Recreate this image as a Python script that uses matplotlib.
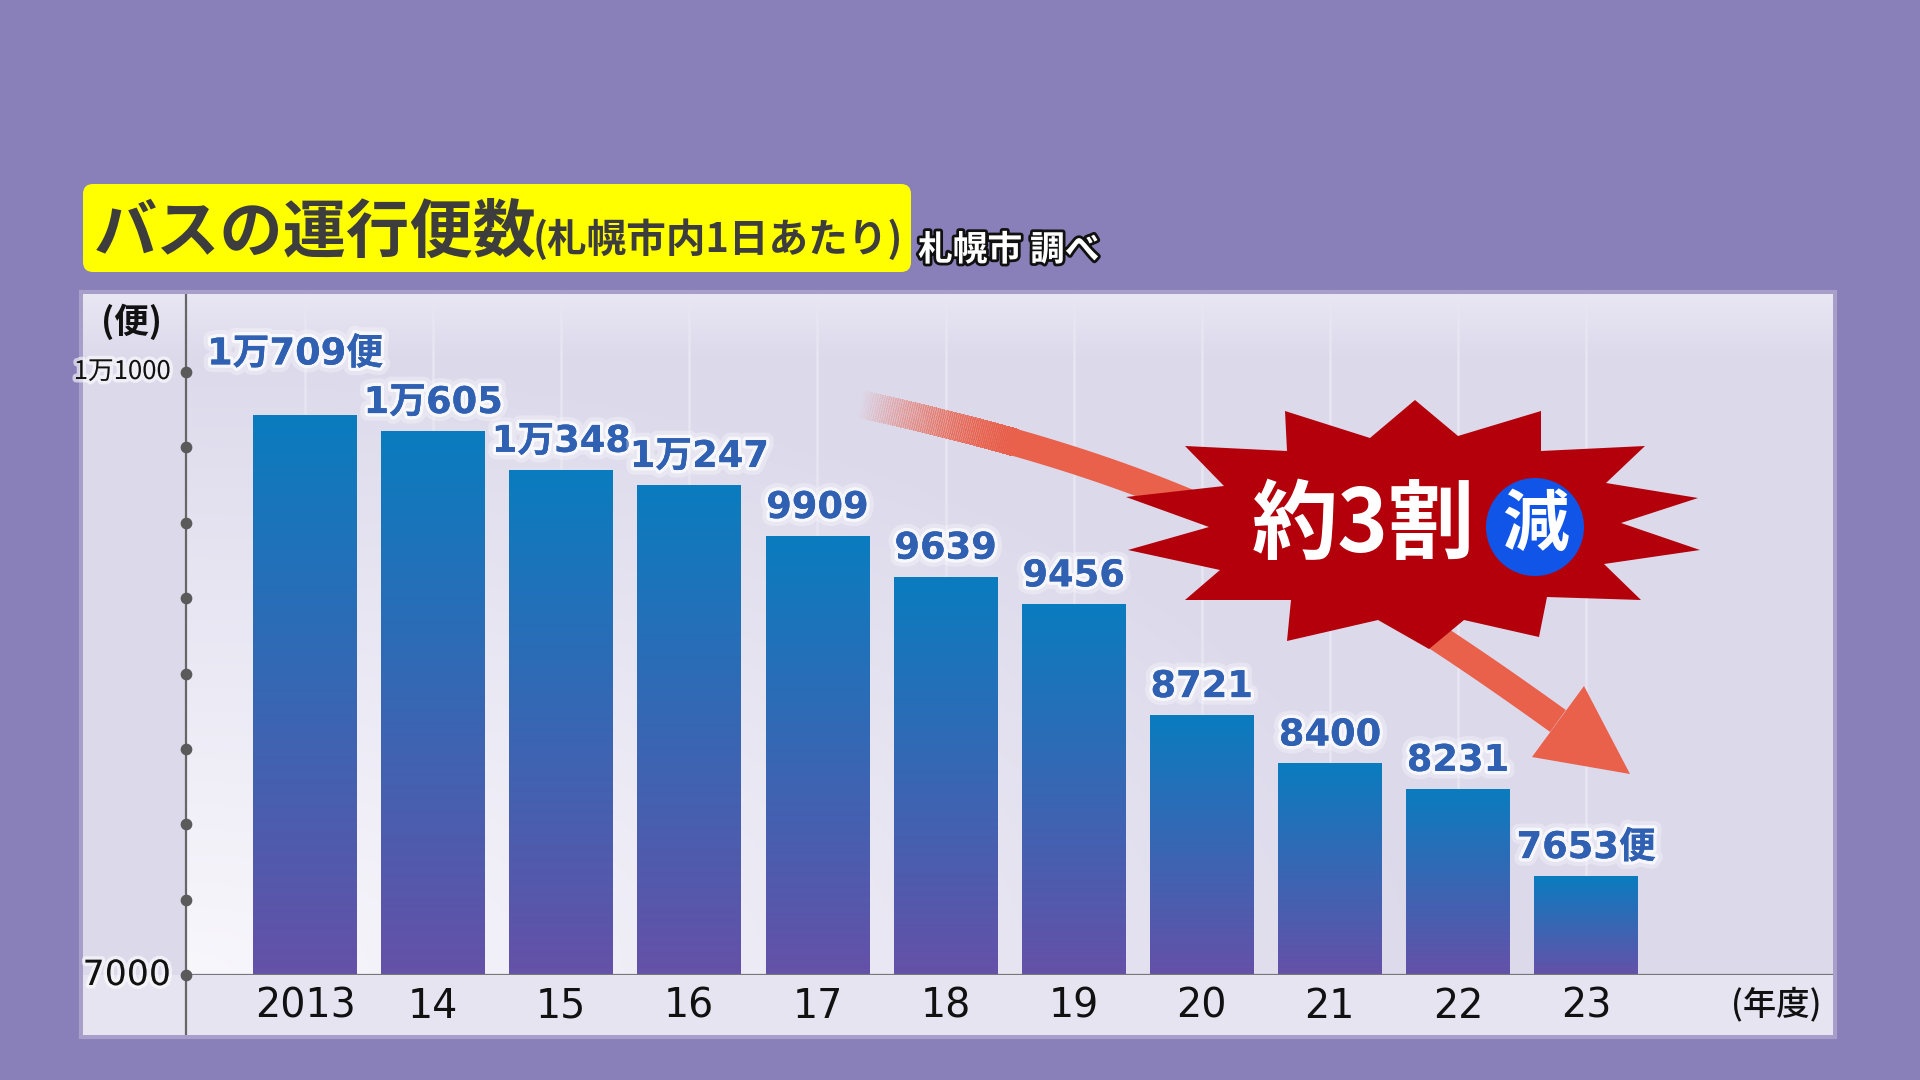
import numpy as np
import matplotlib
matplotlib.use("Agg")
import matplotlib.pyplot as plt
from matplotlib.patches import Polygon, Circle, FancyBboxPatch, Rectangle
from matplotlib.collections import PolyCollection
import matplotlib.patheffects as pe
from matplotlib.colors import to_rgb

plt.rcParams['font.family'] = ['Noto Sans CJK JP', 'DejaVu Sans']

# ---------------- data ----------------
years = ['2013', '14', '15', '16', '17', '18', '19', '20', '21', '22', '23']
trips = [10709, 10605, 10348, 10247, 9909, 9639, 9456, 8721, 8400, 8231, 7653]
value_labels = ['1万709便', '1万605', '1万348', '1万247', '9909', '9639',
                '9456', '8721', '8400', '8231', '7653便']
ytick_values = [7000, 7500, 8000, 8500, 9000, 9500, 10000, 10500, 11000]
ytick_text = {11000: '1万1000', 7000: '7000'}
title = 'バスの運行便数'
subtitle = '(札幌市内1日あたり)'
source = '札幌市 調べ'
y_unit = '(便)'
x_unit = '(年度)'
badge = '約3割'
badge_mark = '減'

# ---------------- layout (pixels) ----------------
W, H = 1920, 1080
fig = plt.figure(figsize=(19.2, 10.8), dpi=100)
fig.patch.set_facecolor('#8a80b9')

bg = fig.add_axes([0, 0, 1, 1], zorder=0)
bg.set_xlim(0, W); bg.set_ylim(H, 0); bg.axis('off')

px0, px1, py0, py1 = 83, 1833, 294, 1035
ax_left, ax_base = 186, 975

# panel background gradient
xs = np.arange(px0, px1) + 0.5
ys = np.arange(py0, py1) + 0.5
X, Y = np.meshgrid(xs, ys)
base = np.array(to_rgb('#dcd9eb'))
light = np.array(to_rgb('#f8f7fc'))
top_light = np.array(to_rgb('#ebe9f5'))
strip_c = np.array(to_rgb('#e6e4f0'))
d = np.sqrt(((X - ax_left) / 1250.0) ** 2 + ((Y - ax_base) / 620.0) ** 2)
w = np.clip(1 - d, 0, 1) ** 0.9
w[(X < ax_left) | (Y > ax_base)] = 0
img = base[None, None, :] + (light - base)[None, None, :] * w[..., None]
tw = (np.clip((360 - Y) / 66.0, 0, 1) * 0.85)[..., None]
img = img + (top_light[None, None, :] - img) * tw
img[Y > ax_base] = strip_c
bg.imshow(img, extent=[px0, px1, py1, py0], origin='upper', aspect='auto',
          interpolation='bilinear', zorder=1)
bg.add_patch(Rectangle((px0 - 2, py0 - 2), px1 - px0 + 4, py1 - py0 + 4, fill=False,
                       ec='white', lw=3, alpha=0.25, zorder=1.5))

# axis line (full panel height)
bg.plot([ax_left, ax_left], [py0, py1], color='#666666', lw=1.6, zorder=3,
        solid_capstyle='butt')

# title box
bg.add_patch(FancyBboxPatch((83, 184), 828, 88, boxstyle='round,pad=0,rounding_size=10',
                            fc='#ffff00', ec='none', zorder=2))
bg.text(94, 252, title, fontsize=45.5, fontweight='bold', color='#3d3d3d',
        ha='left', va='baseline', zorder=3)
bg.text(533, 252, subtitle, fontsize=28.5, fontweight='bold', color='#3d3d3d',
        ha='left', va='baseline', zorder=3)
bg.text(918, 250, source, fontsize=25, fontweight='bold', color='white',
        ha='left', va='center', zorder=3,
        path_effects=[pe.withStroke(linewidth=4, foreground='#111111')])

# ---------------- main axes ----------------
spacing = 128.1
c0 = 305
ppu = (975 - 372) / 4000.0
ax = fig.add_axes([ax_left / W, (H - ax_base) / H, (px1 - ax_left) / W, (ax_base - py0) / H],
                  zorder=2)
ax.set_facecolor('none')
x = np.arange(len(years))
xlo = (ax_left - c0) / spacing
xhi = (px1 - c0) / spacing
ylo = 7000
yhi = 7000 + (ax_base - py0) / ppu

for s in ax.spines.values():
    s.set_visible(False)
ax.set_xticks([]); ax.set_yticks([])

# grid lines at bar centres
ax.vlines(x, ylo, yhi, color='#e7e5f1', lw=1.8, zorder=1)

bars = ax.bar(x, trips, width=0.81, color='none', zorder=2)
top_c = np.array(to_rgb('#0a7cbf'))
bot_c = np.array(to_rgb('#6551a8'))
g = np.linspace(0, 1, 256)[:, None]
gimg = (top_c[None, :] + (bot_c - top_c)[None, :] * g)[:, None, :]
for b in bars:
    bx = b.get_x(); bw = b.get_width(); bt = b.get_y() + b.get_height()
    ax.imshow(gimg, extent=[bx, bx + bw, ylo, bt], origin='upper', aspect='auto',
              interpolation='bilinear', zorder=2)

ax.axhline(ylo, color='#777777', lw=1.6, zorder=4)

ax.set_xlim(xlo, xhi)
ax.set_ylim(ylo, yhi)

# y tick dots & labels
ax.scatter([xlo] * len(ytick_values), ytick_values, s=55, color='#5a5a5a',
           zorder=6, clip_on=False)
for v in ytick_values:
    if v in ytick_text:
        if v == 11000:
            ax.annotate(ytick_text[v], (xlo, v), xytext=(-11, 0), textcoords='offset points',
                        ha='right', va='center', fontsize=18.5, color='#111111',
                        family=['Noto Sans CJK JP'], annotation_clip=False,
                        path_effects=[pe.withStroke(linewidth=5, foreground='white', alpha=0.6)])
        else:
            ax.annotate(ytick_text[v], (xlo, v), xytext=(-11, 0), textcoords='offset points',
                        ha='right', va='center', fontsize=25, color='#111111',
                        family=['DejaVu Sans'], annotation_clip=False,
                        path_effects=[pe.withStroke(linewidth=5, foreground='white', alpha=0.6)])

bg.text(132, 322, y_unit, fontsize=25, fontweight='bold', color='#111111',
        ha='center', va='center', zorder=3)

# x tick labels
for xi, lab in zip(x, years):
    ax.annotate(lab, (xi, ylo), xytext=(0, -23), textcoords='offset points',
                ha='center', va='center', fontsize=28.5, color='#111111',
                family=['DejaVu Sans'], annotation_clip=False)
bg.text(1776, 1005, x_unit, fontsize=24, fontweight='medium', color='#111111',
        ha='center', va='center', zorder=3)

# value labels
label_dx_px = [-10, 0, 0, 10, 0, 0, 0, 0, 0, 0, 0]
label_dy_px = [62, 29, 29, 29, 29, 29, 29, 29, 29, 29, 29]
for xi, v, lab, dx, dy in zip(x, trips, value_labels, label_dx_px, label_dy_px):
    ax.annotate(lab, (xi, v), xytext=(dx * 0.72, dy * 0.72), textcoords='offset points',
                ha='center', va='center', fontsize=26.5, fontweight='bold',
                color='#2f60b1', family=['DejaVu Sans', 'Noto Sans CJK JP'], zorder=7,
                annotation_clip=False,
                path_effects=[pe.withStroke(linewidth=11, foreground='white', alpha=0.3),
                              pe.withStroke(linewidth=5, foreground='white', alpha=0.7),
                              pe.Normal()])

# ---------------- overlay: arrow + starburst ----------------
fg = fig.add_axes([0, 0, 1, 1], zorder=5)
fg.set_xlim(0, W); fg.set_ylim(H, 0); fg.axis('off'); fg.set_facecolor('none')

P0 = np.array([860.0, 404.0]); P1 = np.array([1160.0, 470.0])
P2 = np.array([1308.0, 541.0]); P3 = np.array([1558.0, 721.0])
t = np.linspace(0, 1, 400)[:, None]
pts = ((1 - t) ** 3) * P0 + 3 * ((1 - t) ** 2) * t * P1 + 3 * (1 - t) * t ** 2 * P2 + t ** 3 * P3
tang = np.gradient(pts, axis=0)
tang /= np.linalg.norm(tang, axis=1)[:, None]
nrm = np.stack([-tang[:, 1], tang[:, 0]], axis=1)
half = 13.5
left = pts + nrm * half
right = pts - nrm * half
arrow_rgb = to_rgb('#e9604b')
alpha = np.clip((pts[:, 0] - 860) / (1013 - 860), 0, 1)
k = np.argmax(alpha >= 1)
quads, cols = [], []
for i in range(k):
    quads.append([left[i], left[i + 1], right[i + 1], right[i]])
    a = 0.5 * (alpha[i] + alpha[i + 1])
    cols.append((*arrow_rgb, a))
fg.add_collection(PolyCollection(quads, facecolors=cols, edgecolors='none',
                                 antialiased=False, zorder=1))
solid = np.vstack([left[k:], right[k:][::-1]])
fg.add_patch(Polygon(solid, closed=True, fc=arrow_rgb, ec='none', zorder=1))
fg.add_patch(Polygon([(1584, 686), (1630, 774), (1532, 757)], closed=True,
                     fc=arrow_rgb, ec='none', zorder=1))

star = [(1415, 400), (1458, 436), (1541, 411), (1541, 451), (1645, 446), (1606, 483),
        (1698, 498), (1621, 523), (1700, 550), (1604, 564), (1641, 600), (1547, 597),
        (1539, 637), (1464, 620), (1429, 649), (1378, 620), (1287, 641), (1291, 600),
        (1185, 600), (1220, 570), (1128, 550), (1209, 527), (1126, 497), (1224, 486),
        (1185, 446), (1287, 451), (1285, 411), (1370, 438)]
fg.add_patch(Polygon(star, closed=True, fc='#b3000b', ec='none', zorder=2))
fg.text(1363, 527, badge, fontsize=62, fontweight='bold', color='white',
        ha='center', va='center', zorder=3)
fg.add_patch(Circle((1535, 527), 49, fc='#1055e8', ec='none', zorder=3))
fg.text(1535, 525, badge_mark, fontsize=48, fontweight='bold', color='white',
        ha='center', va='center', zorder=4)

fig.savefig('out.png', dpi=100, facecolor=fig.get_facecolor())
